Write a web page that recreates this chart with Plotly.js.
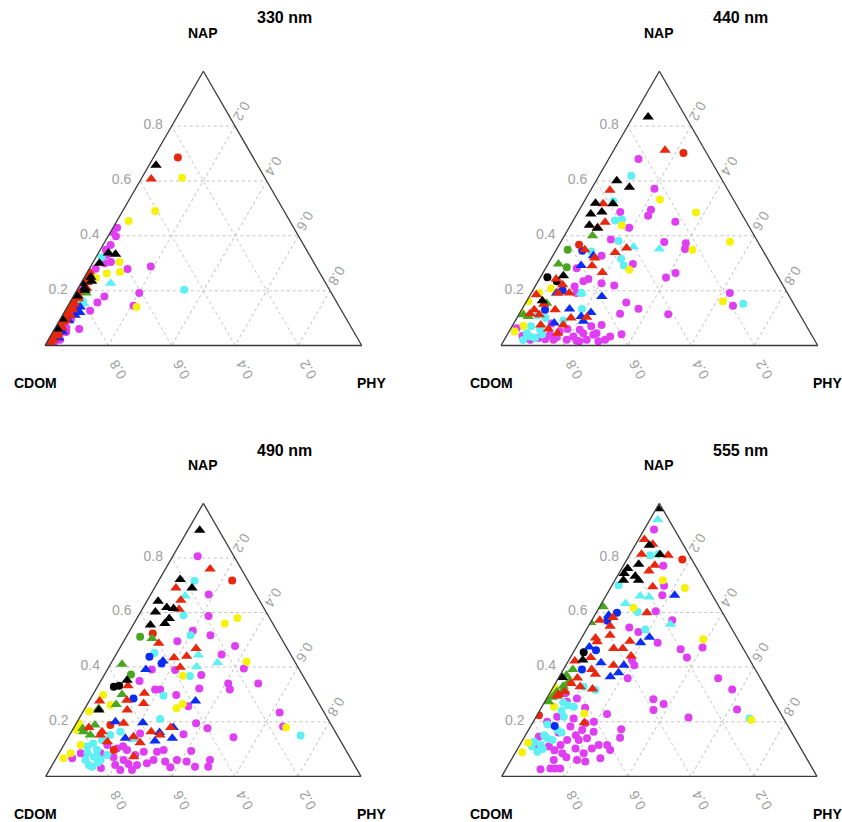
<!DOCTYPE html>
<html>
<head>
<meta charset="utf-8">
<script src="https://cdn.plot.ly/plotly-3.0.1.min.js"></script>
<style>
html,body{margin:0;padding:0;background:#fff;}
#chart{width:842px;height:822px;}
</style>
</head>
<body>
<div id="chart"></div>
<script>
// ---------- labels ----------
const panelTitles = ['330 nm', '440 nm', '490 nm', '555 nm'];
const axisNames = { a: 'NAP', b: 'CDOM', c: 'PHY' };
const tickValues = [0.2, 0.4, 0.6, 0.8];

// ---------- data: NAP (a) and PHY (c) fractions; CDOM = remainder ----------
// 330 nm
const nap330BlackTri = [0.657,0.337,0.333,0.300,0.249,0.234,0.227,0.201,0.097,0.210,0.060,0.180];
const phy330BlackTri = [0.022,0.032,0.056,0.022,0.020,0.030,0.004,0.026,0.006,0.020,0.010,0.012];
const nap330RedTri = [0.607,0.270,0.209,0.180,0.142,0.120,0.100,0.085,0.070,0.055,0.040,0.025,0.015,0.230,0.160,0.260,0.240,0.195,0.170,0.150,0.130,0.110,0.090,0.065,0.045,0.035,0.020,0.010,0.125,0.075];
const phy330RedTri = [0.032,0.005,0.027,0.015,0.013,0.010,0.015,0.012,0.010,0.012,0.008,0.010,0.005,0.018,0.008,0.010,0.012,0.005,0.020,0.018,0.022,0.025,0.020,0.022,0.018,0.020,0.015,0.012,0.008,0.006];
const nap330RedCirc = [0.685];
const phy330RedCirc = [0.077];
const nap330YelCirc = [0.612,0.490,0.454,0.304,0.262,0.268,0.246,0.140];
const phy330YelCirc = [0.127,0.103,0.037,0.083,0.064,0.103,0.038,0.219];
const nap330MagCirc = [0.429,0.414,0.398,0.366,0.349,0.304,0.300,0.279,0.288,0.241,0.191,0.179,0.157,0.127,0.145,0.096,0.060,0.049,0.021,0.003,0.330,0.280,0.220,0.120,0.080,0.030,0.010,0.040,0.015,0.005,0.065,0.110,0.200,0.255];
const phy330MagCirc = [0.013,0.007,0.025,0.024,0.018,0.056,0.039,0.121,0.190,0.002,0.202,0.098,0.087,0.079,0.207,0.034,0.078,0.042,0.037,0.015,0.030,0.020,0.010,0.020,0.020,0.010,0.010,0.025,0.025,0.008,0.035,0.030,0.005,0.008];
const nap330CyanCirc = [0.322,0.203,0.160];
const phy330CyanCirc = [0.018,0.338,0.040];
const nap330CyanTri = [0.227,0.152];
const phy330CyanTri = [0.094,0.047];
const nap330GreenTri = [0.191,0.148,0.115,0.047,0.080,0.030,0.160,0.060,0.020];
const phy330GreenTri = [0.034,0.003,0.005,0.008,0.006,0.004,0.012,0.020,0.008];
const nap330BlueTri = [0.140,0.133,0.110,0.027,0.090,0.120,0.050];
const phy330BlueTri = [0.041,0.034,0.040,0.030,0.030,0.050,0.030];

// 440 nm
const nap440BlackTri = [0.833,0.601,0.577,0.519,0.517,0.479,0.487,0.438,0.427,0.254,0.163];
const phy440BlackTri = [0.048,0.065,0.117,0.039,0.095,0.044,0.075,0.060,0.091,0.070,0.049];
const nap440BlackCirc = [0.249,0.234];
const phy440BlackCirc = [0.022,0.059];
const nap440RedTri = [0.712,0.566,0.517,0.449,0.349,0.319,0.291,0.266,0.339,0.355,0.242,0.221,0.191,0.191,0.185,0.130,0.112,0.116,0.075,0.075,0.045,0.100,0.103,0.430,0.150,0.060,0.130];
const phy440RedTri = [0.162,0.061,0.064,0.104,0.090,0.136,0.142,0.187,0.191,0.219,0.053,0.084,0.120,0.085,0.019,0.106,0.065,0.034,0.088,0.159,0.156,0.171,0.219,0.090,0.060,0.120,0.040];
const nap440RedCirc = [0.702,0.367];
const phy440RedCirc = [0.225,0.063];
const nap440GreenTri = [0.400,0.297,0.154,0.112,0.106];
const phy440GreenTri = [0.089,0.033,0.067,0.015,0.033];
const nap440GreenCirc = [0.349,0.285];
const phy440GreenCirc = [0.036,0.065];
const nap440BlueTri = [0.292,0.327,0.179,0.106,0.120,0.133,0.191,0.082,0.088];
const phy440BlueTri = [0.107,0.128,0.229,0.200,0.224,0.150,0.080,0.127,0.216];
const nap440BlueCirc = [0.345,0.201,0.130];
const phy440BlueCirc = [0.084,0.094,0.074];
const nap440CyanCirc = [0.619,0.456,0.459,0.381,0.316,0.292,0.343,0.526,0.152,0.191,0.133,0.091,0.033,0.045,0.027,0.057,0.100,0.020,0.070,0.040,0.110];
const phy440CyanCirc = [0.102,0.132,0.152,0.181,0.221,0.242,0.114,0.092,0.689,0.159,0.189,0.151,0.075,0.059,0.094,0.095,0.090,0.060,0.060,0.110,0.060];
const nap440CyanTri = [0.359,0.352,0.191];
const phy440CyanTri = [0.239,0.324,0.157];
const nap440YelCirc = [0.532,0.485,0.378,0.349,0.161,0.276,0.437,0.208,0.191,0.051,0.118,0.161,0.072];
const phy440YelCirc = [0.236,0.373,0.534,0.430,0.620,0.267,0.163,0.054,0.025,0.018,0.006,0.006,0.035];
const nap440MagCirc = [0.680,0.571,0.495,0.473,0.451,0.487,0.429,0.386,0.377,0.373,0.352,0.297,0.264,0.248,0.327,0.282,0.242,0.227,0.219,0.157,0.116,0.134,0.114,0.191,0.145,0.075,0.033,0.041,0.045,0.021,0.057,0.033,0.021,0.021,0.023,0.039,0.051,0.021,0.039,0.017,0.045,0.063,0.215,0.191,0.234,0.021,0.027,0.030,0.015,0.060,0.080,0.015,0.035,0.070];
const phy440MagCirc = [0.094,0.199,0.226,0.228,0.325,0.133,0.190,0.154,0.327,0.397,0.405,0.268,0.419,0.397,0.154,0.098,0.155,0.204,0.248,0.317,0.318,0.367,0.471,0.627,0.660,0.280,0.328,0.360,0.279,0.260,0.220,0.212,0.197,0.155,0.128,0.135,0.160,0.318,0.272,0.230,0.237,0.018,0.125,0.143,0.143,0.082,0.105,0.161,0.300,0.180,0.120,0.240,0.050,0.250];

// 490 nm
const nap490BlackTri = [0.901,0.721,0.690,0.641,0.618,0.615,0.602,0.578,0.560,0.554,0.352,0.243];
const phy490BlackTri = [0.038,0.066,0.119,0.036,0.075,0.098,0.047,0.103,0.098,0.055,0.082,0.047];
const nap490BlackCirc = [0.328,0.332];
const phy490BlackCirc = [0.052,0.067];
const nap490RedTri = [0.759,0.690,0.645,0.612,0.487,0.468,0.434,0.440,0.399,0.332,0.304,0.267,0.243,0.279,0.276,0.194,0.163,0.179,0.127,0.145,0.123,0.072,0.163,0.151,0.179,0.151];
const phy490RedTri = [0.142,0.068,0.106,0.117,0.115,0.243,0.190,0.227,0.227,0.095,0.161,0.177,0.137,0.118,0.033,0.150,0.097,0.047,0.132,0.206,0.238,0.243,0.253,0.287,0.307,0.098];
const nap490RedCirc = [0.717,0.523,0.188,0.096];
const phy490RedCirc = [0.233,0.078,0.111,0.168];
const nap490GreenTri = [0.505,0.410,0.300,0.263,0.248,0.188,0.163,0.151,0.175];
const phy490GreenTri = [0.085,0.037,0.092,0.092,0.044,0.062,0.039,0.066,0.030];
const nap490GreenCirc = [0.511,0.373];
const phy490GreenCirc = [0.044,0.084];
const nap490BlueTri = [0.391,0.422,0.276,0.196,0.160,0.179,0.139,0.129,0.139,0.200];
const phy490BlueTri = [0.122,0.161,0.337,0.210,0.281,0.315,0.332,0.282,0.183,0.121];
const nap490BlueCirc = [0.438,0.413,0.285];
const phy490BlueCirc = [0.110,0.161,0.136];
const nap490CyanCirc = [0.716,0.590,0.517,0.452,0.367,0.295,0.210,0.149,0.041,0.060,0.072,0.060,0.078,0.096,0.109,0.133,0.151,0.163,0.050,0.085,0.120,0.070,0.035];
const phy490CyanCirc = [0.114,0.142,0.201,0.119,0.274,0.226,0.258,0.734,0.116,0.096,0.117,0.144,0.156,0.115,0.077,0.112,0.129,0.155,0.140,0.090,0.090,0.130,0.130];
const nap490CyanTri = [0.660,0.444,0.401,0.416,0.135];
const phy490CyanTri = [0.112,0.262,0.278,0.337,0.214];
const nap490YelCirc = [0.560,0.580,0.420,0.368,0.249,0.265,0.179,0.298,0.261,0.237,0.194,0.170,0.115,0.084,0.066];
const phy490YelCirc = [0.288,0.318,0.427,0.251,0.290,0.302,0.673,0.033,0.075,0.019,0.008,0.013,0.053,0.037,0.023];
const nap490MagCirc = [0.806,0.666,0.587,0.517,0.477,0.446,0.395,0.340,0.318,0.340,0.234,0.182,0.143,0.533,0.495,0.389,0.371,0.322,0.257,0.194,0.176,0.154,0.093,0.349,0.391,0.318,0.318,0.298,0.060,0.035,0.035,0.054,0.060,0.033,0.054,0.090,0.096,0.060,0.048,0.041,0.023,0.023,0.041,0.060,0.078,0.090,0.096,0.066,0.084,0.084,0.115,0.102,0.157,0.030,0.070,0.110,0.045];
const phy490MagCirc = [0.079,0.184,0.223,0.264,0.362,0.335,0.431,0.409,0.425,0.504,0.625,0.662,0.524,0.200,0.170,0.216,0.308,0.326,0.324,0.380,0.425,0.360,0.415,0.123,0.141,0.188,0.204,0.265,0.491,0.498,0.456,0.420,0.386,0.379,0.352,0.308,0.326,0.312,0.297,0.269,0.262,0.225,0.200,0.217,0.245,0.266,0.210,0.051,0.069,0.132,0.138,0.175,0.221,0.160,0.180,0.190,0.240];

// 555 nm
const nap555BlackTri = [0.980,0.846,0.812,0.777,0.761,0.743,0.733,0.718,0.718,0.362,0.426];
const phy555BlackTri = [0.006,0.045,0.096,0.046,0.019,0.017,0.057,0.027,0.075,0.011,0.044];
const nap555BlackCirc = [0.454];
const phy555BlackCirc = [0.033];
const nap555RedTri = [0.867,0.850,0.813,0.810,0.773,0.752,0.694,0.599,0.572,0.582,0.550,0.507,0.493,0.517,0.495,0.468,0.468,0.441,0.435,0.407,0.391,0.374,0.422,0.320,0.328,0.294,0.310,0.196,0.300,0.340,0.360];
const phy555RedTri = [0.019,0.054,0.037,0.123,0.099,0.091,0.132,0.161,0.025,0.062,0.069,0.044,0.056,0.085,0.159,0.121,0.150,0.190,0.065,0.151,0.090,0.110,0.021,0.128,0.085,0.029,0.045,0.164,0.030,0.050,0.060];
const nap555RedCirc = [0.794,0.224];
const phy555RedCirc = [0.176,0.006];
const nap555GreenTri = [0.621,0.563,0.391,0.346,0.318,0.294,0.273,0.370,0.310,0.330,0.350,0.290];
const phy555GreenTri = [0.011,0.001,0.030,0.043,0.038,0.020,0.012,0.020,0.020,0.030,0.040,0.015];
const nap555BlueTri = [0.663,0.590,0.509,0.489,0.416,0.407,0.379,0.365,0.474];
const phy555BlueTri = [0.217,0.044,0.214,0.196,0.107,0.184,0.181,0.162,0.041];
const nap555BlueCirc = [0.599,0.462,0.391,0.184,0.570];
const phy555BlueCirc = [0.066,0.068,0.059,0.076,0.050];
const nap555CyanTri = [0.940,0.633,0.660,0.657,0.557];
const phy555CyanTri = [0.025,0.076,0.109,0.139,0.257];
const nap555CyanCirc = [0.810,0.813,0.700,0.602,0.538,0.212,0.328,0.316,0.255,0.218,0.170,0.139,0.115,0.090,0.133,0.127,0.100,0.150,0.270,0.260,0.240,0.190,0.160,0.110];
const phy555CyanCirc = [0.066,0.090,0.021,0.130,0.186,0.680,0.096,0.139,0.101,0.088,0.091,0.074,0.066,0.068,0.094,0.039,0.080,0.060,0.060,0.080,0.070,0.050,0.110,0.040];
const nap555YelCirc = [0.690,0.718,0.502,0.617,0.206,0.088,0.123,0.285,0.230,0.255,0.300,0.320,0.330,0.310];
const phy555YelCirc = [0.236,0.152,0.388,0.109,0.689,0.021,0.022,0.003,0.147,0.038,0.005,0.010,0.000,0.010];
const nap555MagCirc = [0.904,0.771,0.698,0.663,0.605,0.572,0.489,0.465,0.472,0.435,0.359,0.318,0.245,0.215,0.282,0.265,0.243,0.545,0.529,0.407,0.359,0.426,0.228,0.172,0.141,0.163,0.066,0.096,0.115,0.115,0.102,0.084,0.054,0.060,0.102,0.133,0.139,0.170,0.194,0.029,0.029,0.029,0.026,0.084,0.060,0.115,0.133,0.182,0.212,0.273,0.285,0.251,0.304,0.109,0.145,0.115,0.200,0.218,0.200,0.160,0.070,0.150,0.095];
const phy555MagCirc = [0.031,0.127,0.166,0.178,0.186,0.255,0.250,0.335,0.401,0.370,0.507,0.572,0.624,0.485,0.340,0.381,0.360,0.132,0.169,0.217,0.220,0.200,0.220,0.293,0.305,0.210,0.280,0.296,0.277,0.250,0.235,0.218,0.238,0.209,0.183,0.178,0.201,0.170,0.168,0.171,0.155,0.140,0.110,0.150,0.135,0.129,0.141,0.127,0.122,0.070,0.096,0.139,0.050,0.095,0.045,0.050,0.044,0.067,0.192,0.100,0.170,0.160,0.120];

// ---------- assemble (data lookup) ----------
const DATA = {
  '330': { BlackTri:[nap330BlackTri,phy330BlackTri], RedTri:[nap330RedTri,phy330RedTri], RedCirc:[nap330RedCirc,phy330RedCirc],
           YelCirc:[nap330YelCirc,phy330YelCirc], MagCirc:[nap330MagCirc,phy330MagCirc], CyanCirc:[nap330CyanCirc,phy330CyanCirc],
           CyanTri:[nap330CyanTri,phy330CyanTri], GreenTri:[nap330GreenTri,phy330GreenTri], BlueTri:[nap330BlueTri,phy330BlueTri] },
  '440': { BlackTri:[nap440BlackTri,phy440BlackTri], BlackCirc:[nap440BlackCirc,phy440BlackCirc], RedTri:[nap440RedTri,phy440RedTri],
           RedCirc:[nap440RedCirc,phy440RedCirc], GreenTri:[nap440GreenTri,phy440GreenTri], GreenCirc:[nap440GreenCirc,phy440GreenCirc],
           BlueTri:[nap440BlueTri,phy440BlueTri], BlueCirc:[nap440BlueCirc,phy440BlueCirc], CyanCirc:[nap440CyanCirc,phy440CyanCirc],
           CyanTri:[nap440CyanTri,phy440CyanTri], YelCirc:[nap440YelCirc,phy440YelCirc], MagCirc:[nap440MagCirc,phy440MagCirc] },
  '490': { BlackTri:[nap490BlackTri,phy490BlackTri], BlackCirc:[nap490BlackCirc,phy490BlackCirc], RedTri:[nap490RedTri,phy490RedTri],
           RedCirc:[nap490RedCirc,phy490RedCirc], GreenTri:[nap490GreenTri,phy490GreenTri], GreenCirc:[nap490GreenCirc,phy490GreenCirc],
           BlueTri:[nap490BlueTri,phy490BlueTri], BlueCirc:[nap490BlueCirc,phy490BlueCirc], CyanCirc:[nap490CyanCirc,phy490CyanCirc],
           CyanTri:[nap490CyanTri,phy490CyanTri], YelCirc:[nap490YelCirc,phy490YelCirc], MagCirc:[nap490MagCirc,phy490MagCirc] },
  '555': { BlackTri:[nap555BlackTri,phy555BlackTri], BlackCirc:[nap555BlackCirc,phy555BlackCirc], RedTri:[nap555RedTri,phy555RedTri],
           RedCirc:[nap555RedCirc,phy555RedCirc], GreenTri:[nap555GreenTri,phy555GreenTri], BlueTri:[nap555BlueTri,phy555BlueTri],
           BlueCirc:[nap555BlueCirc,phy555BlueCirc], CyanTri:[nap555CyanTri,phy555CyanTri], CyanCirc:[nap555CyanCirc,phy555CyanCirc],
           YelCirc:[nap555YelCirc,phy555YelCirc], MagCirc:[nap555MagCirc,phy555MagCirc] }
};
const panelKeys = ['330', '440', '490', '555'];

// ---------- styles ----------
const COLORS = { Black:'#000000', Red:'#e8270f', Yel:'#f6f20c', Mag:'#df3ef3', Cyan:'#5ef0f2', Green:'#4aa620', Blue:'#0b2cf2' };
const DRAW_ORDER = ['MagCirc','CyanCirc','YelCirc','GreenCirc','BlueCirc','RedCirc','BlackCirc',
                    'CyanTri','GreenTri','BlueTri','RedTri','BlackTri'];

const FONT = 'Liberation Sans, Arial, Helvetica, sans-serif';
const W = 842, H = 822;
// triangle boxes in pixels [left, right, top, bottom]
const boxes = [[45, 361.7, 71, 345.7], [501, 817.7, 71, 345.7], [45, 361.7, 503.3, 776.3], [501, 817.7, 503.3, 776.3]];

const traces = [];
panelKeys.forEach((pk, i) => {
  const sub = i === 0 ? 'ternary' : 'ternary' + (i + 1);
  DRAW_ORDER.forEach(key => {
    const d = DATA[pk][key];
    if (!d) return;
    const isTri = key.endsWith('Tri');
    const col = COLORS[key.replace(/Tri|Circ/, '')];
    traces.push({
      type: 'scatterternary', mode: 'markers', subplot: sub,
      a: d[0], c: d[1],
      marker: { symbol: isTri ? 'triangle-up' : 'circle', size: isTri ? 10 : 8, color: col, line: { width: 0 } },
      hoverinfo: 'a+b+c', showlegend: false
    });
  });
});

function axisCfg(angle, standoff) {
  return {
    title: { text: '' },
    tickmode: 'array', tickvals: tickValues, ticktext: tickValues.map(v => v.toFixed(1)),
    ticks: 'outside', ticklen: standoff, tickcolor: 'rgba(0,0,0,0)',
    tickangle: angle,
    tickfont: { family: FONT, size: 14, color: '#a0a0a0' },
    showgrid: true, gridcolor: '#c4c4c4', gridwidth: 1, griddash: 'dot',
    showline: true, linecolor: '#3a3a3a', linewidth: 1.3
  };
}

const layout = {
  width: W, height: H,
  margin: { l: 0, r: 0, t: 0, b: 0 },
  paper_bgcolor: '#ffffff',
  font: { family: FONT },
  showlegend: false,
  annotations: []
};

boxes.forEach((bx, i) => {
  const sub = i === 0 ? 'ternary' : 'ternary' + (i + 1);
  layout[sub] = {
    sum: 1,
    bgcolor: '#ffffff',
    domain: { x: [bx[0] / W, bx[1] / W], y: [1 - bx[3] / H, 1 - bx[2] / H] },
    aaxis: axisCfg(0, 6),
    baxis: axisCfg(-120, 6),
    caxis: axisCfg(120, 21)
  };
  const left = bx[0], right = bx[1], top = bx[2], bottom = bx[3];
  const cx = (left + right) / 2;
  const ann = (text, px, py, size) => ({
    text: '<b>' + text + '</b>', xref: 'paper', yref: 'paper', x: px / W, y: 1 - py / H,
    xanchor: 'center', yanchor: 'middle', showarrow: false,
    font: { family: FONT, size: size, color: '#000' }
  });
  layout.annotations.push(ann(panelTitles[i], cx + 81, top - 53, 16));
  layout.annotations.push(ann(axisNames.a, cx, top - 38, 14));
  layout.annotations.push(ann(axisNames.b, left - 10, bottom + 37.5, 14));
  layout.annotations.push(ann(axisNames.c, right + 9.5, bottom + 37.5, 14));
});

Plotly.newPlot('chart', traces, layout, { displayModeBar: false, staticPlot: true });
</script>
</body>
</html>
